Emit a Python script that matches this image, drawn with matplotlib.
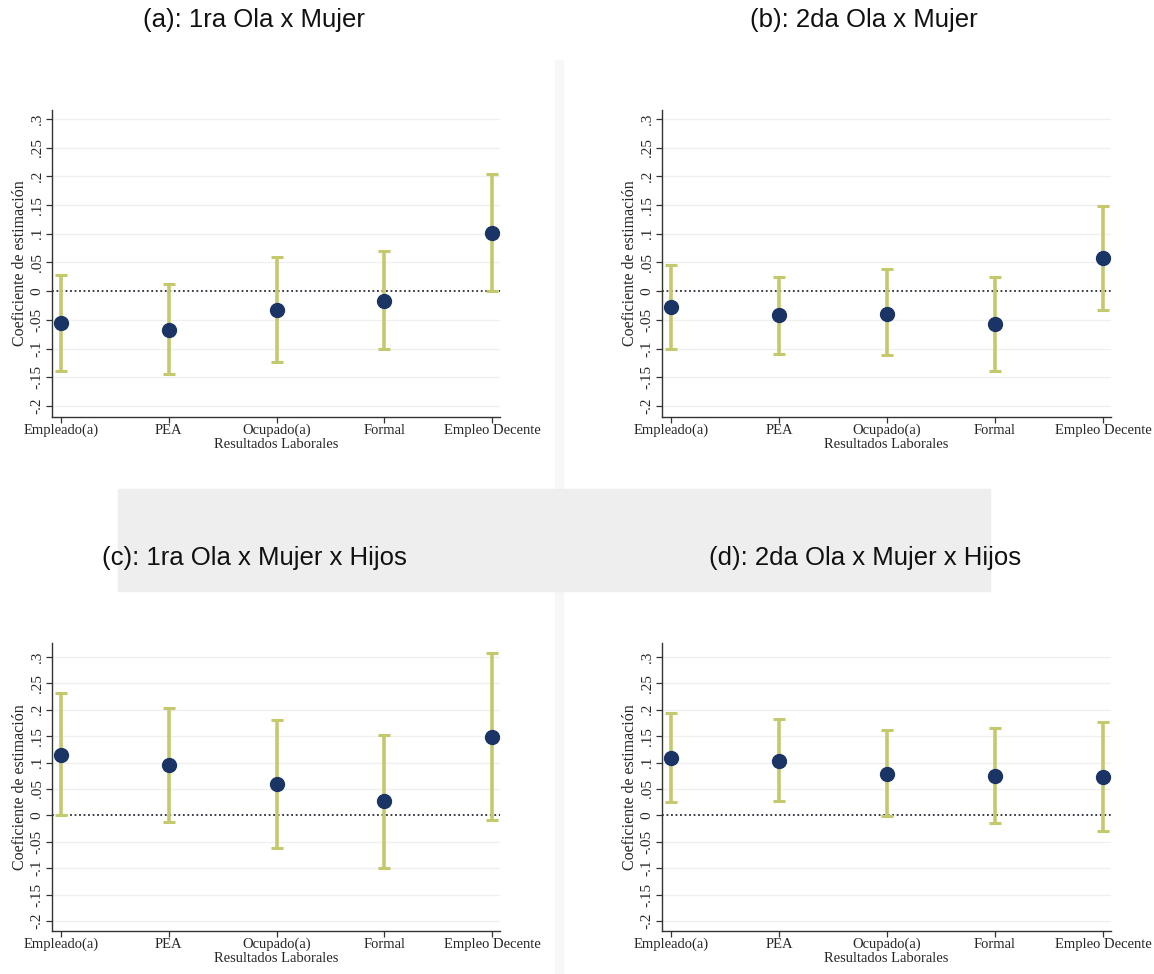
import numpy as np
import matplotlib
matplotlib.use('Agg')
import matplotlib.pyplot as plt
from matplotlib.patches import Rectangle

plt.rcParams['font.family'] = ['Liberation Serif', 'DejaVu Serif']

categorias = ['Empleado(a)', 'PEA', 'Ocupado(a)', 'Formal', 'Empleo Decente']
yticks = [-0.2, -0.15, -0.1, -0.05, 0, 0.05, 0.1, 0.15, 0.2, 0.25, 0.3]
ytick_labels = ['-.2', '-.15', '-.1', '-.05', '0', '.05', '.1', '.15', '.2', '.25', '.3']

# (a) 1ra Ola x Mujer
a_coef = [-0.055, -0.067, -0.032, -0.017, 0.101]
a_lo = [-0.139, -0.144, -0.124, -0.101, 0.000]
a_hi = [0.029, 0.012, 0.060, 0.070, 0.204]
# (b) 2da Ola x Mujer
b_coef = [-0.028, -0.042, -0.039, -0.057, 0.058]
b_lo = [-0.100, -0.110, -0.112, -0.139, -0.032]
b_hi = [0.046, 0.025, 0.038, 0.025, 0.149]
# (c) 1ra Ola x Mujer x Hijos
c_coef = [0.115, 0.096, 0.060, 0.027, 0.149]
c_lo = [0.000, -0.013, -0.061, -0.099, -0.009]
c_hi = [0.231, 0.204, 0.180, 0.153, 0.308]
# (d) 2da Ola x Mujer x Hijos
d_coef = [0.109, 0.103, 0.079, 0.075, 0.073]
d_lo = [0.026, 0.027, -0.002, -0.014, -0.029]
d_hi = [0.193, 0.182, 0.162, 0.165, 0.176]

titulos = ['(a): 1ra Ola x Mujer', '(b): 2da Ola x Mujer',
           '(c): 1ra Ola x Mujer x Hijos', '(d): 2da Ola x Mujer x Hijos']

W, H = 1154, 974
fig = plt.figure(figsize=(W / 100, H / 100), dpi=100)

# marca de agua gris clara detras de los titulos de abajo
fig.patches.append(Rectangle((118 / W, 1 - 591 / H), (990 - 118) / W, (591 - 489) / H,
                             transform=fig.transFigure, color='#eeeeee', zorder=-5))
fig.patches.append(Rectangle((555 / W, 0), 8 / W, 1 - 60 / H,
                             transform=fig.transFigure, color='#f7f7f7', zorder=-6))

def px_axes(left, right, top, bottom):
    return fig.add_axes([left / W, 1 - bottom / H, (right - left) / W, (bottom - top) / H])

def panel(ax, coef, lo, hi, ylim):
    x = np.arange(1, len(categorias) + 1)
    for yv in yticks:
        if yv != 0:
            ax.axhline(yv, color='#efefef', lw=0.9, zorder=0)
    ax.axhline(0, color='#2b2b3a', lw=1.3, ls=(0, (1, 1.5)), zorder=1)
    coef = np.array(coef)
    err = [coef - np.array(lo), np.array(hi) - coef]
    ax.errorbar(x, coef, yerr=err, fmt='none', ecolor='#c5c96e', elinewidth=2.6,
                capsize=4, capthick=2.2, zorder=2)
    ax.plot(x, coef, 'o', color='#1b3466', ms=10, zorder=3)
    ax.set_xlim(0.916, 5.074)
    ax.set_ylim(*ylim)
    ax.set_xticks(x)
    ax.set_xticklabels(categorias, fontsize=10.5, color='#262626')
    ax.set_yticks(yticks)
    ax.set_yticklabels(ytick_labels, rotation=90, va='center', fontsize=11, color='#262626')
    ax.set_ylabel('Coeficiente de estimación', fontsize=11.5, color='#262626', labelpad=2)
    ax.set_xlabel('Resultados Laborales', fontsize=10.5, color='#262626', labelpad=0.5)
    for s in ['top', 'right']:
        ax.spines[s].set_visible(False)
    for s in ['left', 'bottom']:
        ax.spines[s].set_color('#333333')
        ax.spines[s].set_linewidth(1.0)
    ax.tick_params(direction='out', length=4, width=0.9, color='#333333', pad=2)
    ax.tick_params(axis='x', pad=1)

ax_a = px_axes(52, 500, 110, 417)
ax_b = px_axes(662, 1111, 110, 417)
ax_c = px_axes(52, 500, 643, 931)
ax_d = px_axes(662, 1111, 643, 931)

panel(ax_a, a_coef, a_lo, a_hi, (-0.2192, 0.3157))
panel(ax_b, b_coef, b_lo, b_hi, (-0.2192, 0.3157))
panel(ax_c, c_coef, c_lo, c_hi, (-0.219, 0.3265))
panel(ax_d, d_coef, d_lo, d_hi, (-0.219, 0.3265))

tpos = [(254, 20), (864, 20), (254, 558), (865, 558)]
for t, (tx, ty) in zip(titulos, tpos):
    fig.text(tx / W, 1 - ty / H, t, ha='center', va='center', fontsize=18.5,
             family=['Liberation Sans', 'DejaVu Sans'], color='#111111')

fig.savefig('out.png', dpi=100)
